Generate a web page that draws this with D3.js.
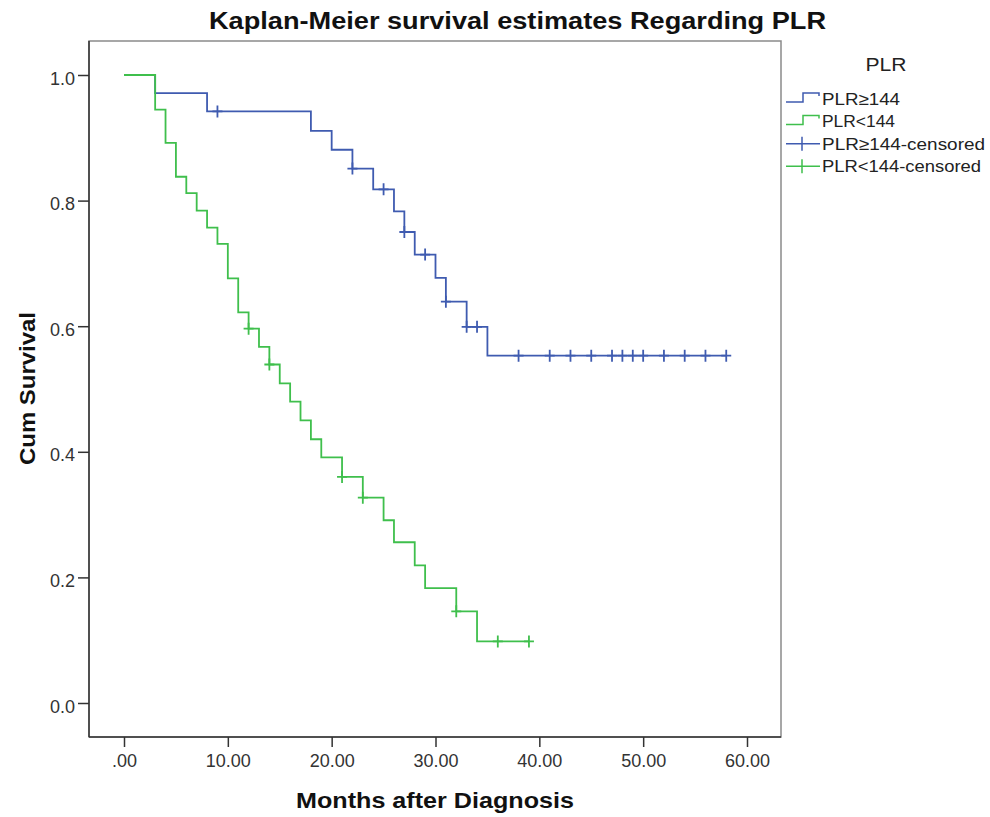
<!DOCTYPE html>
<html>
<head>
<meta charset="utf-8">
<script src="https://cdn.jsdelivr.net/npm/d3@7"></script>
<style>
  html, body { margin: 0; padding: 0; background: #fff; }
  svg { display: block; font-family: "Liberation Sans", Arial, sans-serif; }
</style>
</head>
<body>
<svg id="chart" width="990" height="817"></svg>
<script>
// ---- Data ----
const seriesNames = ["PLR\u2265144", "PLR<144"];

// PLR>=144: event times and survival after each step
const highTimes = [0, 3, 8, 18, 20, 22, 24, 26, 27, 28, 30, 31, 33, 35];
const highSurv  = [1.0, 0.971, 0.942, 0.911, 0.881, 0.851, 0.818, 0.783, 0.750, 0.714, 0.677, 0.639, 0.599, 0.553];
const highCensored = [9, 22, 25, 27, 29, 31, 33, 34, 38, 41, 43, 45, 47, 48, 49, 50, 52, 54, 56, 58];

// PLR<144
const lowTimes = [0, 3, 4, 5, 6, 7, 8, 9, 10, 11, 12, 13, 14, 15, 16, 17, 18, 19, 21, 23, 25, 26, 28, 29, 32, 34];
const lowSurv  = [1.0, 0.945, 0.892, 0.838, 0.812, 0.784, 0.757, 0.731, 0.676, 0.622, 0.596, 0.567, 0.539, 0.509, 0.480, 0.450, 0.420, 0.391, 0.360, 0.327, 0.291, 0.256, 0.219, 0.183, 0.146, 0.098];
const lowCensored = [12, 14, 21, 23, 32, 36, 39];

const xTicks = [0, 10, 20, 30, 40, 50, 60];
const yTicks = [0, 0.2, 0.4, 0.6, 0.8, 1.0];

const colors = ["#3f5bb0", "#3fbf4c"];

// ---- Layout ----
const svg = d3.select("#chart");
const frame = { left: 89, right: 781, top: 41, bottom: 737 };

const x = d3.scaleLinear().domain([0, 60]).range([124, 747]);
const y = d3.scaleLinear().domain([0, 1]).range([703, 75]);

// frame
svg.append("rect")
  .attr("x", frame.left).attr("y", frame.top)
  .attr("width", frame.right - frame.left).attr("height", frame.bottom - frame.top)
  .attr("fill", "none").attr("stroke", "#8a8a8a").attr("stroke-width", 1.5);
svg.append("line")
  .attr("x1", frame.left).attr("x2", frame.left).attr("y1", frame.top).attr("y2", frame.bottom)
  .attr("stroke", "#333").attr("stroke-width", 1.5);
svg.append("line")
  .attr("x1", frame.left).attr("x2", frame.right).attr("y1", frame.bottom).attr("y2", frame.bottom)
  .attr("stroke", "#333").attr("stroke-width", 1.5);

// axes
const yAxis = d3.axisLeft(y).tickValues(yTicks).tickFormat(d3.format(".1f")).tickSize(11).tickPadding(3);
const gy = svg.append("g").attr("transform", `translate(${frame.left},0)`).call(yAxis);
gy.select(".domain").remove();
gy.selectAll(".tick line").attr("stroke", "#333").attr("stroke-width", 1.5);
gy.selectAll(".tick text").attr("fill", "#333").attr("dy", "0.5em").style("font-size", "18px")
  .style("font-family", "'Liberation Sans', Arial, sans-serif");

const xAxis = d3.axisBottom(x).tickValues(xTicks)
  .tickFormat(d => d === 0 ? ".00" : d.toFixed(2)).tickSize(10).tickPadding(7);
const gx = svg.append("g").attr("transform", `translate(0,${frame.bottom})`).call(xAxis);
gx.select(".domain").remove();
gx.selectAll(".tick line").attr("stroke", "#333").attr("stroke-width", 1.5);
gx.selectAll(".tick text").attr("fill", "#333").style("font-size", "18px")
  .style("font-family", "'Liberation Sans', Arial, sans-serif");

// curves
const line = d3.line().x(d => x(d[0])).y(d => y(d[1])).curve(d3.curveStepAfter);

function survAt(times, surv, t) {
  let s = surv[0];
  for (let i = 0; i < times.length; i++) if (times[i] <= t) s = surv[i];
  return s;
}

const series = [
  { times: highTimes, surv: highSurv, cens: highCensored, color: colors[0] },
  { times: lowTimes, surv: lowSurv, cens: lowCensored, color: colors[1] }
];

series.forEach(s => {
  const pts = s.times.map((t, i) => [t, s.surv[i]]);
  const tEnd = Math.max(s.times[s.times.length - 1], d3.max(s.cens));
  pts.push([tEnd, s.surv[s.surv.length - 1]]);
  svg.append("path").attr("d", line(pts))
    .attr("fill", "none").attr("stroke", s.color).attr("stroke-width", 1.8);
  s.cens.forEach(t => {
    const cx = x(t), cy = y(survAt(s.times, s.surv, t));
    svg.append("path")
      .attr("d", `M${cx - 5},${cy}H${cx + 5}M${cx},${cy - 6}V${cy + 6}`)
      .attr("stroke", s.color).attr("stroke-width", 1.8).attr("fill", "none");
  });
});

// title and axis labels
svg.append("text").attr("x", 517.5).attr("y", 29).attr("text-anchor", "middle")
  .attr("textLength", 617).attr("lengthAdjust", "spacingAndGlyphs")
  .style("font-size", "23px").style("font-weight", "bold").attr("fill", "#111")
  .text("Kaplan-Meier survival estimates Regarding PLR");

svg.append("text").attr("x", 435).attr("y", 808).attr("text-anchor", "middle")
  .attr("textLength", 278).attr("lengthAdjust", "spacingAndGlyphs")
  .style("font-size", "22px").style("font-weight", "bold").attr("fill", "#111")
  .text("Months after Diagnosis");

svg.append("text").attr("transform", "translate(35,388.5) rotate(-90)").attr("text-anchor", "middle")
  .attr("textLength", 153).attr("lengthAdjust", "spacingAndGlyphs")
  .style("font-size", "22px").style("font-weight", "bold").attr("fill", "#111")
  .text("Cum Survival");

// legend
const lg = svg.append("g");
lg.append("text").attr("x", 886).attr("y", 70.5).attr("text-anchor", "middle")
  .attr("textLength", 41).attr("lengthAdjust", "spacingAndGlyphs")
  .style("font-size", "18px").attr("fill", "#222").text("PLR");

const legendItems = [
  { label: seriesNames[0], color: colors[0], type: "step", w: 78 },
  { label: seriesNames[1], color: colors[1], type: "step", w: 73 },
  { label: seriesNames[0] + "-censored", color: colors[0], type: "cens", w: 163 },
  { label: seriesNames[1] + "-censored", color: colors[1], type: "cens", w: 159 }
];
legendItems.forEach((it, i) => {
  const base = 105 + i * 22.4;
  const cy = base - 6;
  if (it.type === "step") {
    lg.append("path").attr("d", `M786,${cy + 3}H803V${cy - 6}H819V${cy - 3}`)
      .attr("fill", "none").attr("stroke", it.color).attr("stroke-width", 1.5);
  } else {
    lg.append("path").attr("d", `M786,${cy}H820M802,${cy - 7}V${cy + 7}`)
      .attr("fill", "none").attr("stroke", it.color).attr("stroke-width", 1.5);
  }
  lg.append("text").attr("x", 822).attr("y", base)
    .attr("textLength", it.w).attr("lengthAdjust", "spacingAndGlyphs")
    .style("font-size", "17px").attr("fill", "#222").text(it.label);
});
</script>
</body>
</html>
